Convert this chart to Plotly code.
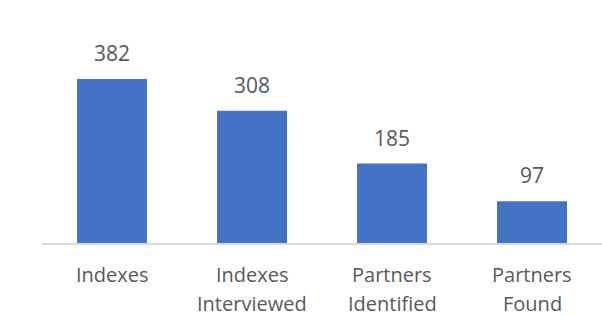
import plotly.graph_objects as go

categories = ["Indexes", "Indexes Interviewed", "Partners Identified", "Partners Found"]
label_lines = [["Indexes"], ["Indexes", "Interviewed"], ["Partners", "Identified"], ["Partners", "Found"]]
values = [382, 308, 185, 97]

BAR = "#4472C4"
TXT = "#595959"
FONT = "Open Sans"

fig = go.Figure(go.Bar(x=categories, y=values, marker=dict(color=BAR, line=dict(width=0)), width=0.5,
                       hoverinfo="skip"))

for c, v in zip(categories, values):
    fig.add_annotation(x=c, y=v, text=str(v), showarrow=False, yanchor="bottom", yshift=10,
                       font=dict(family=FONT, size=21, color=TXT))

for c, lines in zip(categories, label_lines):
    for i, ln in enumerate(lines):
        fig.add_annotation(x=c, xref="x", y=0, yref="paper", text=ln, showarrow=False,
                           yanchor="middle", yshift=-31 - 29 * i, borderpad=0,
                           font=dict(family=FONT, size=20, color=TXT))

fig.update_layout(
    width=602, height=316,
    margin=dict(l=42, r=0, t=0, b=73, autoexpand=False),
    paper_bgcolor="white", plot_bgcolor="white",
    showlegend=False,
    xaxis=dict(showline=True, linecolor="#D9D9D9", linewidth=2, showgrid=False,
               showticklabels=False, automargin=False, fixedrange=True),
    yaxis=dict(range=[0, 566], visible=False, showgrid=False, automargin=False, fixedrange=True),
)

fig.write_html("out.html", config={"displayModeBar": False, "staticPlot": True},
               post_script="document.body.style.margin='0';document.body.style.overflow='hidden';")
